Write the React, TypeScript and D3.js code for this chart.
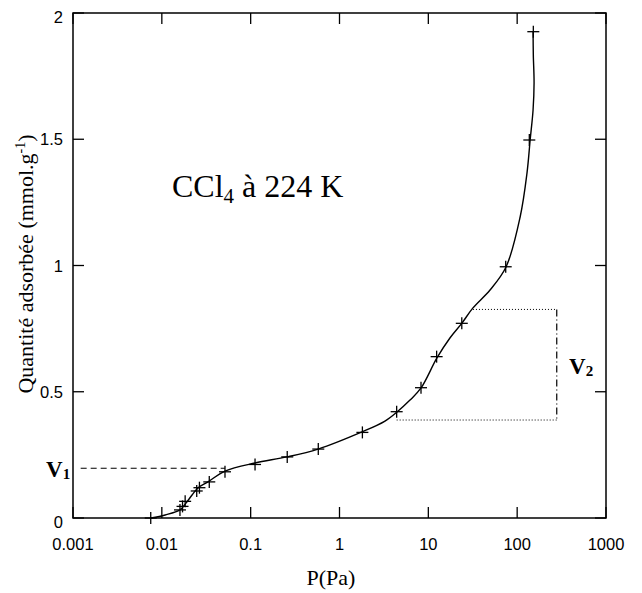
import { useRef, useEffect } from "react";
import * as d3 from "d3";

// measured points (P in Pa, quantity in mmol/g)
const pressure = [0.0075, 0.016, 0.0171, 0.0183, 0.0247, 0.0265, 0.0342, 0.0514, 0.112, 0.258, 0.577, 1.81, 4.4, 8.27, 12.4, 23.8, 74.3, 137, 152];
const adsorbed = [0, 0.032, 0.046, 0.066, 0.107, 0.12, 0.143, 0.183, 0.212, 0.242, 0.273, 0.339, 0.421, 0.516, 0.639, 0.771, 0.995, 1.497, 1.926];

// smooth fitted curve
const fitP = [0.00755, 0.0109, 0.016, 0.0187, 0.0219, 0.0255, 0.0331, 0.0514, 0.112, 0.256, 0.573, 1.79, 3.25, 4.44, 6.22, 8.28, 12.5, 17.5, 23.9, 31.8, 49.5, 74.9, 108, 129, 140, 151, 155, 152, 151];
const fitV = [0, 0.012, 0.032, 0.059, 0.091, 0.119, 0.143, 0.186, 0.218, 0.242, 0.273, 0.341, 0.384, 0.42, 0.467, 0.515, 0.634, 0.713, 0.772, 0.832, 0.903, 0.994, 1.192, 1.366, 1.497, 1.616, 1.723, 1.834, 1.929];

const xTicks = [0.001, 0.01, 0.1, 1, 10, 100, 1000];
const xTickLabels = ["0.001", "0.01", "0.1", "1", "10", "100", "1000"];
const yTicks = [0, 0.5, 1, 1.5, 2];
const yTickLabels = ["0", "0.5", "1", "1.5", "2"];

// V1 / V2 guides
const v1Level = 0.197;
const v1Range = [0.00122, 0.0514];
const v2Top = 0.826;
const v2Bottom = 0.388;
const v2TopFrom = 31.8;
const v2BottomFrom = 4.4;
const v2At = 279;

export default function App() {
  const svgRef = useRef<SVGSVGElement | null>(null);

  useEffect(() => {
    if (!svgRef.current) return;
    const svg = d3.select(svgRef.current);
    svg.selectAll("*").remove();

    const left = 73, right = 606, top = 13, bottom = 518;
    const x = d3.scaleLog().domain([0.001, 1000]).range([left, right]);
    const y = d3.scaleLinear().domain([0, 2]).range([bottom, top]);
    const tl = 11;
    const serif = "'Liberation Serif', 'Times New Roman', serif";
    const sans = "'Liberation Sans', Arial, sans-serif";

    // frame
    svg.append("rect")
      .attr("x", left).attr("y", top)
      .attr("width", right - left).attr("height", bottom - top)
      .attr("fill", "none").attr("stroke", "#000").attr("stroke-width", 1.5);

    const g = svg.append("g").attr("stroke", "#000").attr("stroke-width", 1.3);
    xTicks.forEach((t) => {
      g.append("line").attr("x1", x(t)).attr("x2", x(t)).attr("y1", bottom).attr("y2", bottom - tl);
      g.append("line").attr("x1", x(t)).attr("x2", x(t)).attr("y1", top).attr("y2", top + tl);
    });
    yTicks.forEach((t) => {
      g.append("line").attr("x1", left).attr("x2", left + tl).attr("y1", y(t)).attr("y2", y(t));
      g.append("line").attr("x1", right).attr("x2", right - tl).attr("y1", y(t)).attr("y2", y(t));
    });

    svg.append("g").selectAll("text").data(xTicks).join("text")
      .attr("x", (d) => x(d)).attr("y", 550)
      .attr("text-anchor", "middle")
      .attr("font-family", sans).attr("font-size", 16.5)
      .text((_, i) => xTickLabels[i]);

    svg.append("g").selectAll("text").data(yTicks).join("text")
      .attr("x", 63).attr("y", (d) => y(d) + (d === 0 || d === 2 ? 10 : 6))
      .attr("text-anchor", "end")
      .attr("font-family", sans).attr("font-size", 16.5)
      .text((_, i) => yTickLabels[i]);

    // axis titles
    svg.append("text")
      .attr("x", 331).attr("y", 585).attr("text-anchor", "middle")
      .attr("font-family", serif).attr("font-size", 22)
      .text("P(Pa)");

    const yl = svg.append("text")
      .attr("transform", "translate(33,264) rotate(-90)")
      .attr("text-anchor", "middle")
      .attr("font-family", serif).attr("font-size", 22);
    yl.append("tspan").text("Quantité adsorbée (mmol.g");
    yl.append("tspan").attr("font-size", 14).attr("dy", -8).text("-1");
    yl.append("tspan").attr("dy", 8).text(")");

    // annotation
    const ann = svg.append("text")
      .attr("x", 172).attr("y", 197)
      .attr("font-family", serif).attr("font-size", 32);
    ann.append("tspan").text("CCl");
    ann.append("tspan").attr("font-size", 21).attr("dy", 6).text("4");
    ann.append("tspan").attr("dy", -6).text(" à 224 K");

    // guides
    svg.append("line")
      .attr("x1", x(v1Range[0])).attr("x2", x(v1Range[1]))
      .attr("y1", y(v1Level)).attr("y2", y(v1Level))
      .attr("stroke", "#000").attr("stroke-width", 1.2).attr("stroke-dasharray", "6,4");

    const dotted = svg.append("g").attr("stroke", "#000").attr("stroke-width", 1).attr("stroke-dasharray", "1,2");
    dotted.append("line").attr("x1", x(v2TopFrom)).attr("x2", x(v2At)).attr("y1", y(v2Top)).attr("y2", y(v2Top));
    dotted.append("line").attr("x1", x(v2BottomFrom)).attr("x2", x(v2At)).attr("y1", y(v2Bottom)).attr("y2", y(v2Bottom));
    svg.append("line")
      .attr("x1", x(v2At)).attr("x2", x(v2At))
      .attr("y1", y(v2Top)).attr("y2", y(v2Bottom))
      .attr("stroke", "#000").attr("stroke-width", 1.2).attr("stroke-dasharray", "7,3,1,3");

    const lab = (px: number, py: number, sub: string) => {
      const t = svg.append("text").attr("x", px).attr("y", py)
        .attr("font-family", serif).attr("font-weight", "bold").attr("font-size", 23);
      t.append("tspan").text("V");
      t.append("tspan").attr("font-size", 15).attr("dy", 2).text(sub);
    };
    lab(46, 477, "1");
    lab(569, 374, "2");

    // fitted curve
    const fit = fitP.map((p, i) => [x(p), y(fitV[i])] as [number, number]);
    svg.append("path")
      .attr("d", d3.line().curve(d3.curveCatmullRom.alpha(0.5))(fit) as string)
      .attr("fill", "none").attr("stroke", "#000").attr("stroke-width", 1.4);

    // markers
    const s = 6;
    const marks = svg.append("g").attr("stroke", "#000").attr("stroke-width", 1.3);
    pressure.forEach((p, i) => {
      const cx = x(p), cy = y(adsorbed[i]);
      marks.append("line").attr("x1", cx - s).attr("x2", cx + s).attr("y1", cy).attr("y2", cy);
      marks.append("line").attr("x1", cx).attr("x2", cx).attr("y1", cy - s).attr("y2", cy + s);
    });
  }, []);

  return (
    <svg ref={svgRef} width={642} height={593} viewBox="0 0 642 593"
      style={{ position: "absolute", left: 0, top: 0, background: "#fff" }} />
  );
}
